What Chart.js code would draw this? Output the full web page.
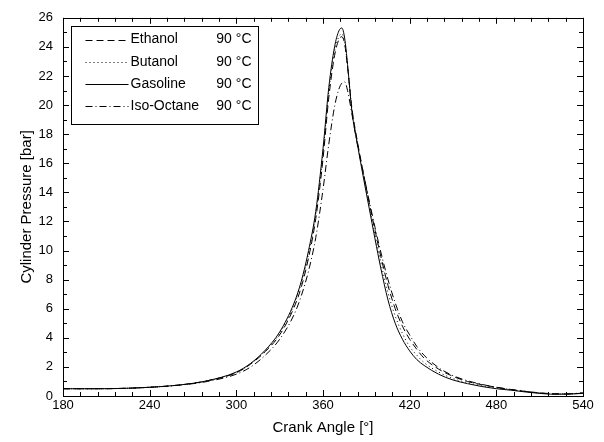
<!DOCTYPE html>
<html>
<head>
<meta charset="utf-8">
<script src="https://cdn.jsdelivr.net/npm/chart.js@4"></script>
<style>
  html, body { margin: 0; padding: 0; background: #fff; }
  #wrap { width: 604px; height: 442px; }
</style>
</head>
<body>
<div id="wrap"><canvas id="chart" width="604" height="442"></canvas></div>
<script>
// Cylinder pressure traces vs crank angle, four fuels at 90 °C.
const angles = [180, 200, 220, 240, 260, 280, 300, 310, 320, 330, 340, 345, 350, 355, 360, 364, 368, 371, 373, 375, 377, 380, 384, 388, 392, 396, 400, 405, 410, 415, 420, 425, 430, 440, 450, 460, 470, 480, 490, 500, 510, 520, 530, 540];

const ethanol = [0.5, 0.5, 0.52, 0.6, 0.75, 1.05, 1.6, 2.2, 3.05, 4.2, 6.1, 7.5, 9.5, 12.2, 16.3, 20.5, 23.4, 24.5, 24.7, 24.2, 22.6, 19.8, 17.4, 15.3, 13.3, 11.4, 9.6, 7.6, 6.0, 4.8, 3.9, 3.2, 2.6, 1.85, 1.35, 1.0, 0.78, 0.6, 0.45, 0.32, 0.22, 0.15, 0.14, 0.2];
const butanol = [0.5, 0.5, 0.52, 0.6, 0.75, 1.05, 1.62, 2.22, 3.1, 4.3, 6.3, 7.8, 9.8, 12.5, 16.7, 20.9, 23.7, 24.7, 24.9, 24.3, 22.7, 19.7, 17.3, 15.2, 13.1, 11.1, 9.2, 7.1, 5.5, 4.3, 3.4, 2.8, 2.3, 1.65, 1.2, 0.92, 0.7, 0.55, 0.42, 0.3, 0.2, 0.14, 0.14, 0.2];
const gasoline = [0.5, 0.5, 0.52, 0.6, 0.75, 1.05, 1.65, 2.25, 3.15, 4.4, 6.4, 7.9, 10.0, 12.7, 17.0, 21.2, 24.0, 25.1, 25.3, 24.6, 22.8, 19.6, 17.2, 15.0, 12.9, 10.8, 8.8, 6.6, 5.0, 3.9, 3.1, 2.5, 2.1, 1.5, 1.1, 0.85, 0.65, 0.5, 0.4, 0.28, 0.18, 0.12, 0.13, 0.18];
const isoOctane = [0.5, 0.5, 0.52, 0.6, 0.74, 1.0, 1.5, 2.0, 2.8, 3.9, 5.6, 6.9, 8.6, 10.9, 14.2, 17.3, 19.9, 21.1, 21.5, 21.6, 21.0, 19.4, 17.2, 15.3, 13.4, 11.6, 9.9, 8.0, 6.4, 5.1, 4.2, 3.4, 2.8, 1.95, 1.4, 1.05, 0.8, 0.6, 0.45, 0.32, 0.2, 0.15, 0.15, 0.22];

const seriesNames = ["Ethanol", "Butanol", "Gasoline", "Iso-Octane"];
const seriesTemp = ["90 °C", "90 °C", "90 °C", "90 °C"];
const xTickValues = [180, 240, 300, 360, 420, 480, 540];
const yTickValues = [0, 2, 4, 6, 8, 10, 12, 14, 16, 18, 20, 22, 24, 26];

const FAMILY = "'Liberation Sans', Arial, sans-serif";
const TICK_FONT = { family: FAMILY, size: 13 };
const TITLE_FONT = { family: FAMILY, size: 15 };
const dashes = [[7, 4], [1, 3], [], [7, 3, 1, 3]];
const allSeries = [ethanol, butanol, gasoline, isoOctane];

const toPts = (ys) => ys.map((y, i) => ({ x: angles[i], y }));

// MATLAB-like frame: box plus inward ticks on all four sides, and the legend box
const framePlugin = {
  id: "frame",
  afterDraw(chart) {
    const { ctx, chartArea: a, scales: { x, y } } = chart;
    ctx.save();
    ctx.strokeStyle = "#000";
    ctx.lineWidth = 1;
    ctx.strokeRect(Math.round(a.left) + 0.5, Math.round(a.top) + 0.5,
      Math.round(a.right - a.left), Math.round(a.bottom - a.top));
    ctx.beginPath();
    for (let v = x.min; v <= x.max; v += 12) {
      const px = Math.round(x.getPixelForValue(v)) + 0.5;
      const len = v % 60 === 0 ? 6 : 4;
      ctx.moveTo(px, a.bottom); ctx.lineTo(px, a.bottom - len);
      ctx.moveTo(px, a.top); ctx.lineTo(px, a.top + len);
    }
    for (let v = y.min; v <= y.max; v += 1) {
      const py = Math.round(y.getPixelForValue(v)) + 0.5;
      const len = v % 2 === 0 ? 6 : 4;
      ctx.moveTo(a.left, py); ctx.lineTo(a.left + len, py);
      ctx.moveTo(a.right, py); ctx.lineTo(a.right - len, py);
    }
    ctx.stroke();

    const lx = Math.round(a.left) + 8.5, ly = Math.round(a.top) + 8.5;
    const lw = 187, lh = 98;
    ctx.fillStyle = "#fff";
    ctx.fillRect(lx, ly, lw, lh);
    ctx.strokeRect(lx, ly, lw, lh);
    ctx.font = `14px ${FAMILY}`;
    ctx.textBaseline = "middle";
    ctx.fillStyle = "#000";
    chart.data.datasets.forEach((ds, i) => {
      const cy = ly + 13 + i * 22.3;
      ctx.setLineDash(ds.borderDash || []);
      ctx.beginPath();
      ctx.moveTo(lx + 14, Math.round(cy) + 0.5);
      ctx.lineTo(lx + 57, Math.round(cy) + 0.5);
      ctx.stroke();
      ctx.setLineDash([]);
      ctx.textAlign = "left";
      ctx.fillText(seriesNames[i], lx + 59, cy);
      ctx.textAlign = "right";
      ctx.fillText(seriesTemp[i], lx + lw - 7, cy);
    });
    ctx.restore();
  },
};

new Chart(document.getElementById("chart"), {
  type: "line",
  data: {
    datasets: allSeries.map((ys, i) => ({
      label: seriesNames[i] + " " + seriesTemp[i],
      data: toPts(ys),
      borderColor: "#000",
      borderWidth: 1,
      borderDash: dashes[i],
      pointRadius: 0,
      fill: false,
      cubicInterpolationMode: "monotone",
    })),
  },
  options: {
    responsive: false,
    animation: false,
    layout: { padding: { top: 16, right: 21, left: 0, bottom: 0 } },
    plugins: { legend: { display: false }, tooltip: { enabled: false } },
    scales: {
      x: {
        type: "linear",
        min: 180,
        max: 540,
        afterBuildTicks: (s) => { s.ticks = xTickValues.map((v) => ({ value: v })); },
        afterFit: (s) => { s.height = 46; },
        grid: { display: false, drawTicks: false },
        border: { display: false },
        ticks: { color: "#000", font: TICK_FONT, padding: 2, maxRotation: 0 },
        title: { display: true, text: "Crank Angle [°]", color: "#000", font: TITLE_FONT, padding: { top: 0, bottom: 5 } },
      },
      y: {
        min: 0,
        max: 26,
        afterBuildTicks: (s) => { s.ticks = yTickValues.map((v) => ({ value: v })); },
        afterFit: (s) => { s.width = 63; },
        grid: { display: false, drawTicks: false },
        border: { display: false },
        ticks: { color: "#000", font: TICK_FONT, padding: 10 },
        title: { display: true, text: "Cylinder Pressure [bar]", color: "#000", font: TITLE_FONT, padding: { top: 18, bottom: 0 } },
      },
    },
  },
  plugins: [framePlugin],
});
</script>
</body>
</html>
